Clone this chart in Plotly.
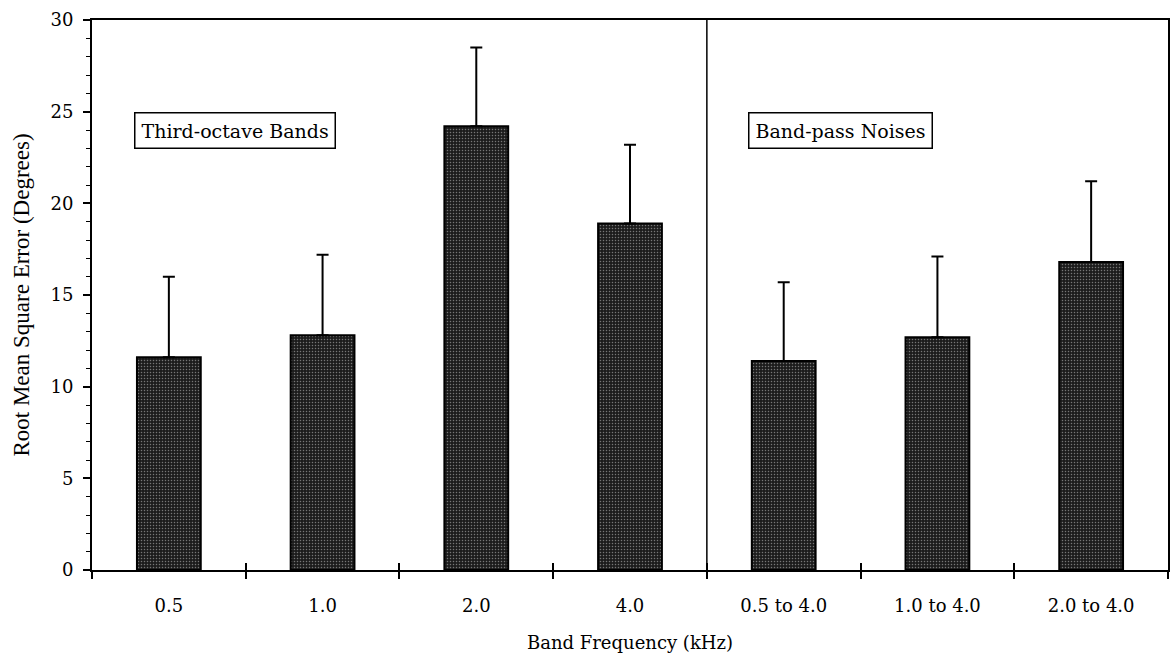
import plotly.graph_objects as go

# Band frequencies: third-octave bands, then band-pass noises
categories = ["0.5", "1.0", "2.0", "4.0", "0.5 to 4.0", "1.0 to 4.0", "2.0 to 4.0"]
rms_error = [11.6, 12.8, 24.2, 18.9, 11.4, 12.7, 16.8]
rms_sd = [4.4, 4.4, 4.3, 4.3, 4.3, 4.4, 4.4]
n_third_octave = 4
y_ticks = [0, 5, 10, 15, 20, 25, 30]

serif = "DejaVu Serif"
times = "Liberation Serif"

fig = go.Figure()

fig.add_trace(go.Bar(
    x=categories,
    y=rms_error,
    marker=dict(
        color="#1c1c1c",
        line=dict(color="black", width=2),
        pattern=dict(shape=".", fgcolor="#d0d0d0", bgcolor="#1c1c1c",
                     size=3, solidity=0.2, fillmode="overlay"),
    ),
    error_y=dict(type="data", symmetric=False, array=rms_sd,
                 arrayminus=[0] * len(rms_sd),
                 color="black", thickness=2, width=6),
    showlegend=False,
    hoverinfo="skip",
))

# helper trace so the overlaid axis carries the same categories (inner tick halves)
fig.add_trace(go.Scatter(x=categories, y=[None] * len(categories), xaxis="x2",
                         mode="markers", showlegend=False, hoverinfo="skip"))

# divider between the two stimulus groups
fig.add_shape(type="line", xref="x", yref="y",
              x0=n_third_octave - 0.5, x1=n_third_octave - 0.5, y0=0, y1=30,
              line=dict(color="black", width=1.5))

box = dict(bgcolor="white", bordercolor="black", borderwidth=1.5, borderpad=6,
           font=dict(family=serif, size=19, color="black"),
           xref="x", yref="y", showarrow=False, xanchor="left", yanchor="middle")
fig.add_annotation(text="Third-octave Bands", x=-0.23, y=23.95, **box)
fig.add_annotation(text="Band-pass Noises", x=3.77, y=23.95, **box)

fig.update_layout(
    width=1171, height=657,
    margin=dict(l=92, r=1, t=20, b=87),
    paper_bgcolor="white", plot_bgcolor="white",
    bargap=0.585,
    font=dict(family=serif, size=18, color="black"),
    xaxis=dict(
        type="category", categoryarray=categories, categoryorder="array",
        range=[-0.5, len(categories) - 0.5],
        tickson="boundaries", ticks="outside", ticklen=7, tickwidth=1.5,
        tickcolor="black",
        showline=True, linecolor="black", linewidth=2, mirror=True,
        showgrid=False, zeroline=False,
        tickfont=dict(family=serif, size=18),
        ticklabelstandoff=18,
        title=dict(text="Band Frequency (kHz)", font=dict(family=serif, size=18),
                   standoff=22),
    ),
    xaxis2=dict(
        type="category", categoryarray=categories, categoryorder="array",
        range=[-0.5, len(categories) - 0.5], overlaying="x", anchor="y",
        side="bottom",
        tickson="boundaries", ticks="inside", ticklen=7, tickwidth=1.5,
        tickcolor="black", showticklabels=False, showgrid=False,
        showline=False, zeroline=False,
    ),
    yaxis=dict(
        range=[0, 30], tickvals=y_ticks,
        ticks="outside", ticklen=7, tickwidth=1.5, tickcolor="black",
        minor=dict(dtick=1, ticks="outside", ticklen=4, tickwidth=1.2,
                   tickcolor="black"),
        showline=True, linecolor="black", linewidth=2, mirror=True,
        showgrid=False, zeroline=False,
        tickfont=dict(family=serif, size=18),
        ticklabelstandoff=6,
        title=dict(text="Root Mean Square Error (Degrees)",
                   font=dict(family=times, size=23), standoff=14),
    ),
)

fig.write_html("out.html")
